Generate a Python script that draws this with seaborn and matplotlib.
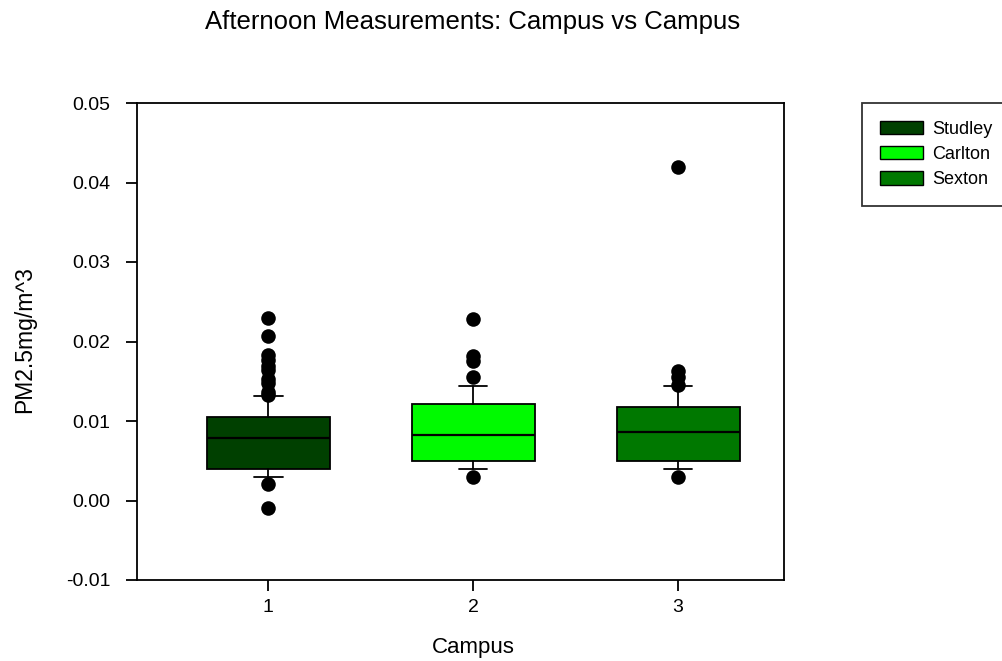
import matplotlib
matplotlib.use("Agg")
import matplotlib.pyplot as plt
from matplotlib.patches import Patch
import seaborn as sns
import pandas as pd

campuses = ["Studley", "Carlton", "Sexton"]
positions = [1, 2, 3]
colors = ["#004000", "#00fa00", "#007800"]

q1 = [0.00396, 0.00497, 0.00497]
median = [0.00790, 0.00828, 0.00862]
q3 = [0.01045, 0.01218, 0.01172]
whisker_low = [0.00296, 0.00396, 0.00396]
whisker_high = [0.01318, 0.01444, 0.01444]

outliers_studley = [0.0230, 0.0207, 0.0183, 0.0177, 0.0169, 0.0164, 0.0153, 0.0148, 0.0137, 0.0133, 0.0021, -0.00095]
outliers_carlton = [0.0228, 0.0182, 0.0176, 0.0155, 0.0030]
outliers_sexton = [0.0419, 0.0163, 0.0155, 0.0145, 0.0030]
outliers = [outliers_studley, outliers_carlton, outliers_sexton]

sns.set_style("ticks")
plt.rcParams["font.family"] = ["Liberation Sans", "DejaVu Sans"]
plt.rcParams["text.color"] = "black"
plt.rcParams["axes.labelcolor"] = "black"

fig = plt.figure(figsize=(10.02, 6.61), dpi=100)
ax = fig.add_axes([137/1002, 1-580/661, (784-137)/1002, (580-103)/661])

stats = []
for i in range(3):
    stats.append(dict(med=median[i], q1=q1[i], q3=q3[i],
                      whislo=whisker_low[i], whishi=whisker_high[i],
                      fliers=[], label=str(positions[i])))

bp = ax.bxp(stats, positions=positions, widths=0.6, patch_artist=True,
            showfliers=False, capwidths=0.14,
            boxprops=dict(edgecolor="black", linewidth=1.3),
            medianprops=dict(color="black", linewidth=1.6),
            whiskerprops=dict(color="black", linewidth=1.3),
            capprops=dict(color="black", linewidth=1.3))
for patch, c in zip(bp["boxes"], colors):
    patch.set_facecolor(c)

rows = []
for p, vals in zip(positions, outliers):
    for v in vals:
        rows.append({"pos": p, "val": v})
df = pd.DataFrame(rows)
sns.scatterplot(data=df, x="pos", y="val", ax=ax, color="black", s=110,
                edgecolor="black", linewidth=0, legend=False, zorder=5)

ax.set_xlim(0.36, 3.517)
ax.set_ylim(-0.01, 0.05)
ax.set_yticks([-0.01, 0.0, 0.01, 0.02, 0.03, 0.04, 0.05])
ax.set_yticklabels(["-0.01", "0.00", "0.01", "0.02", "0.03", "0.04", "0.05"])
ax.set_xticks(positions)
ax.set_xticklabels(["1", "2", "3"])
for s in ax.spines.values():
    s.set_visible(True)
    s.set_linewidth(1.3)
    s.set_color("black")
ax.tick_params(axis="both", direction="out", length=8, width=1.3,
               labelsize=14, colors="black")
ax.tick_params(axis="y", pad=11)
ax.tick_params(axis="x", pad=6)
ax.set_xlabel("Campus", fontsize=16)
ax.set_ylabel("PM2.5mg/m^3", fontsize=16.5)
ax.xaxis.set_label_coords(473/1002, 1-647/661, transform=fig.transFigure)
ax.yaxis.set_label_coords(25/1002, 1-340/661, transform=fig.transFigure)
ax.xaxis.label.set_va("center")
ax.yaxis.label.set_va("center")

fig.text(473/1002, 1-22/661, "Afternoon Measurements: Campus vs Campus",
         ha="center", va="center", fontsize=18.5)

handles = [Patch(facecolor=c, edgecolor="black", linewidth=1.0, label=n)
           for c, n in zip(colors, campuses)]
leg = fig.legend(handles=handles, loc="upper left",
                 bbox_to_anchor=(862/1002, 1-103/661),
                 bbox_transform=fig.transFigure, fontsize=13,
                 frameon=True, fancybox=False, edgecolor="black",
                 handlelength=2.4, handleheight=0.75, handletextpad=0.5,
                 labelspacing=0.45, borderpad=1.0, borderaxespad=0)
leg.get_frame().set_linewidth(1.3)

fig.savefig("out.png", dpi=100)
